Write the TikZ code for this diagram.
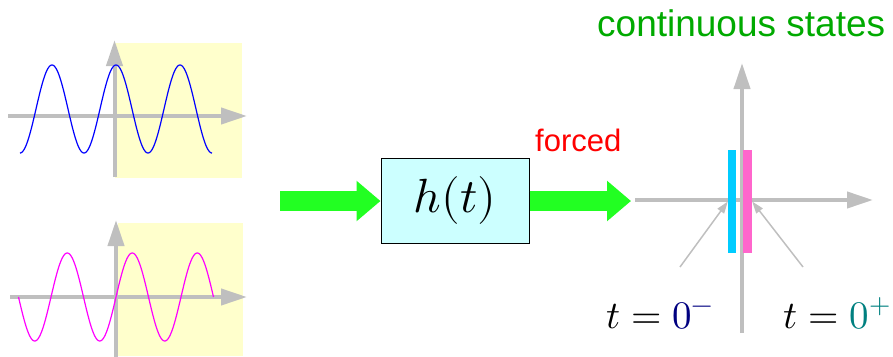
\documentclass[tikz,border=0pt]{standalone}
\usepackage{fontspec}
\usepackage{unicode-math}
\setmainfont{Liberation Sans}
\setmathfont{Latin Modern Math}
\usetikzlibrary{arrows.meta}
\definecolor{axgray}{HTML}{BFBFBF}
\definecolor{paleyellow}{HTML}{FFFFCC}
\definecolor{arrowgreen}{HTML}{22FF22}
\definecolor{boxcyan}{HTML}{CCFFFF}
\definecolor{barcyan}{HTML}{00CCFF}
\definecolor{barpink}{HTML}{FF66CC}
\definecolor{stategreen}{HTML}{00AA00}
\definecolor{navyblue}{HTML}{000080}
\definecolor{tealc}{HTML}{008080}
\definecolor{wavemag}{HTML}{FF00FF}
\definecolor{waveblue}{HTML}{0000FF}
\begin{document}
\begin{tikzpicture}[x=1pt,y=-1pt,
  axisarrow/.style={draw=axgray, line width=4pt, -{Triangle[width=16pt,length=26pt]}},
  bigarrow/.style={draw=arrowgreen, line width=20pt, -{Triangle[width=39pt,length=24pt]}},
  pointer/.style={draw=axgray, line width=1.5pt, -{Triangle[width=8pt,length=12pt]}},
  shade/.style={fill=paleyellow, draw=none},
  bar/.style={rectangle, minimum width=8pt, minimum height=103pt, inner sep=0pt, draw=none},
  wave/.style={line width=1.2pt, samples=300, smooth}
]
\useasboundingbox (0,0) rectangle (893,356);

% top plot
\fill[shade] (115,43) rectangle (242,178);
\coordinate (t1l) at (8,116); \coordinate (t1r) at (247,116);
\coordinate (t1b) at (114.5,177); \coordinate (t1t) at (114.5,40);
\draw[axisarrow] (t1l) -- (t1r);
\draw[axisarrow] (t1b) -- (t1t);
\draw[wave, waveblue] plot[domain=20:212] ({\x},{109-44*cos(5.625*(\x-116))});

% bottom plot
\fill[shade] (118,223) rectangle (243,356);
\coordinate (b1l) at (10,297); \coordinate (b1r) at (247,297);
\coordinate (b1b) at (116,360); \coordinate (b1t) at (116,220);
\draw[axisarrow] (b1l) -- (b1r);
\draw[axisarrow] (b1b) -- (b1t);
\draw[wave, wavemag] plot[domain=18.5:213.5] ({\x},{297-44*sin(5.53846*(\x-116))});

% system box
\node[draw=black, line width=1pt, fill=boxcyan, minimum width=148pt, minimum height=85pt, inner sep=0pt]
  (sys) at (455,200.5) {\fontsize{48}{52}\selectfont $h(t)$};
\coordinate (inA) at (280,201);
\coordinate (outB) at (631,201);
\draw[bigarrow] (inA) -- (sys.west |- inA);
\draw[bigarrow] (sys.east |- inA) -- (outB);

\node[anchor=base west, inner sep=0pt, text=red] (forced) at (535,151)
  {\fontsize{31}{34}\selectfont forced};

% right axes
\coordinate (rl) at (635,200); \coordinate (rr) at (873,200);
\coordinate (rb) at (742,333); \coordinate (rt) at (742,63);
\draw[axisarrow] (rl) -- (rr);
\draw[axisarrow] (rb) -- (rt);
\node[bar, fill=barcyan] (cbar) at (732,201.5) {};
\node[bar, fill=barpink, minimum width=9pt] (pbar) at (747.5,201.5) {};
\coordinate (pl) at (680,267);
\coordinate (pr) at (803,267);
\draw[pointer] (pl) -- (cbar.west);
\draw[pointer] (pr) -- (pbar.east);

\node[anchor=base, inner sep=0pt] (tminus) at (660,328)
  {\fontsize{39}{43}\selectfont $t=\textcolor{navyblue}{0^{-}}$};
\node[anchor=base east, inner sep=0pt] (tplus) at (891,328)
  {\fontsize{39}{43}\selectfont $t=\textcolor{tealc}{0^{+}}$};

\node[anchor=base west, inner sep=0pt, text=stategreen] (cs) at (597,36)
  {\fontsize{37}{40}\selectfont continuous states};
\end{tikzpicture}
\end{document}
